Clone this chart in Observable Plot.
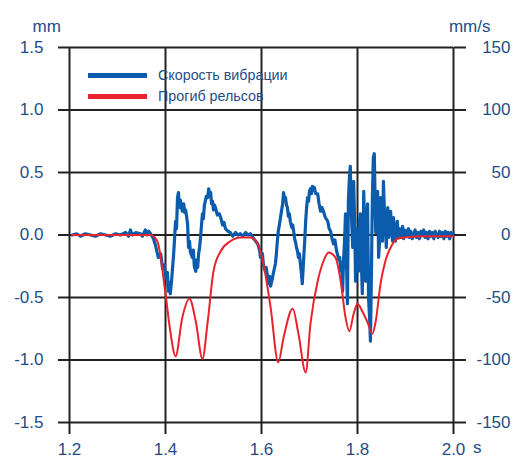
<!DOCTYPE html>
<html>
<head>
<meta charset="utf-8">
<script src="https://cdn.jsdelivr.net/npm/d3@7"></script>
<script src="https://cdn.jsdelivr.net/npm/@observablehq/plot@0.6"></script>
<style>
  html, body { margin: 0; padding: 0; background: #fff; }
  #wrap { position: relative; width: 518px; height: 461px; font-family: "Liberation Sans", Arial, Helvetica, sans-serif; }
  .leg { position: absolute; left: 88px; display: flex; align-items: center; font-size: 14.3px; color: #1d4e89; }
  .leg span.sw { display: inline-block; width: 59px; height: 5px; margin-right: 11px; }
</style>
</head>
<body>
<div id="wrap">
  <div id="chart"></div>
  <div class="leg" style="top:67px"><span class="sw" style="background:#0b5cad"></span>Скорость вибрации</div>
  <div class="leg" style="top:88px"><span class="sw" style="background:#e8232b"></span>Прогиб рельсов</div>
</div>
<script>
// x ticks (s) and y ticks (mm; right axis shows mm/s = mm * 100)
const xTicks = [1.2, 1.4, 1.6, 1.8, 2.0];
const yTicks = [-1.5, -1.0, -0.5, 0.0, 0.5, 1.0, 1.5];

// Прогиб рельсов (rail deflection), mm
const redT = [1.206, 1.25, 1.30, 1.35, 1.369, 1.383, 1.400, 1.410, 1.421, 1.435, 1.450, 1.463, 1.477, 1.488, 1.500, 1.515, 1.535, 1.556, 1.577, 1.592, 1.604, 1.619, 1.635, 1.646, 1.665, 1.677, 1.692, 1.702, 1.717, 1.729, 1.740, 1.754, 1.765, 1.775, 1.783, 1.792, 1.800, 1.810, 1.821, 1.831, 1.838, 1.848, 1.858, 1.869, 1.883, 1.896, 1.95, 2.0];
const redMM = [0, 0, 0, 0, 0, -0.05, -0.47, -0.77, -0.97, -0.66, -0.51, -0.69, -0.99, -0.69, -0.29, -0.13, -0.05, -0.02, -0.02, -0.07, -0.23, -0.58, -1.02, -0.82, -0.59, -0.79, -1.10, -0.71, -0.37, -0.21, -0.14, -0.18, -0.37, -0.66, -0.77, -0.63, -0.55, -0.61, -0.70, -0.79, -0.69, -0.39, -0.21, -0.10, -0.03, -0.02, -0.01, -0.01];

// Скорость вибрации (vibration velocity), mm/s
const blueT = [1.206,1.215,1.223,1.233,1.244,1.254,1.265,1.275,1.285,1.296,1.306,1.317,1.323,1.327,1.331,1.338,1.348,1.352,1.358,1.362,1.365,1.369,1.375,1.379,1.385,1.390,1.394,1.398,1.400,1.404,1.406,1.408,1.410,1.413,1.417,1.421,1.423,1.425,1.427,1.429,1.431,1.435,1.438,1.440,1.442,1.446,1.448,1.450,1.452,1.456,1.458,1.460,1.463,1.465,1.467,1.469,1.471,1.473,1.475,1.477,1.479,1.481,1.483,1.485,1.488,1.490,1.492,1.494,1.496,1.498,1.500,1.502,1.504,1.508,1.512,1.515,1.519,1.522,1.525,1.530,1.535,1.540,1.546,1.551,1.556,1.561,1.567,1.572,1.577,1.582,1.588,1.592,1.596,1.598,1.602,1.604,1.608,1.610,1.613,1.615,1.617,1.619,1.622,1.625,1.629,1.631,1.633,1.635,1.638,1.640,1.642,1.644,1.646,1.648,1.650,1.652,1.654,1.656,1.658,1.660,1.663,1.665,1.667,1.669,1.671,1.673,1.675,1.677,1.679,1.681,1.683,1.685,1.688,1.690,1.692,1.694,1.696,1.698,1.700,1.702,1.704,1.706,1.708,1.710,1.713,1.717,1.720,1.723,1.726,1.729,1.733,1.738,1.741,1.744,1.747,1.750,1.753,1.756,1.758,1.761,1.763,1.765,1.767,1.769,1.771,1.773,1.775,1.777,1.779,1.781,1.783,1.785,1.787,1.790,1.792,1.794,1.796,1.798,1.800,1.802,1.804,1.806,1.808,1.810,1.812,1.813,1.815,1.817,1.819,1.821,1.823,1.825,1.827,1.829,1.831,1.833,1.835,1.837,1.838,1.840,1.842,1.844,1.846,1.848,1.850,1.852,1.854,1.856,1.858,1.860,1.863,1.865,1.867,1.869,1.871,1.873,1.875,1.877,1.879,1.881,1.883,1.885,1.888,1.890,1.892,1.894,1.896,1.898,1.900,1.903,1.906,1.908,1.911,1.914,1.917,1.920,1.923,1.926,1.929,1.932,1.935,1.938,1.941,1.944,1.947,1.950,1.953,1.956,1.959,1.962,1.965,1.968,1.971,1.974,1.977,1.980,1.983,1.986,1.989,1.992,1.995,1.998,2.000];
const blueV = [0,1,-1,1,0,-1,1,0,-1,1,0,2,-1,4,0,2,1,-1,4,0,3,1,-3,-8,-18,-15,-27,-24,-34,-30,-45,-38,-47,-35,-15,11,5,30,34,22,28,19,25,18,20,9,-10,-5,-14,-18,-12,-25,-29,-20,-26,-15,-10,-2,8,17,13,24,27,31,30,37,32,34,25,27,20,24,22,16,17,14,8,10,5,3,2,-1,2,0,1,-1,2,0,1,-2,-5,-7,-12,-18,-15,-24,-29,-26,-35,-39,-33,-41,-36,-30,-23,-15,-5,3,10,15,20,25,34,28,30,24,22,15,17,11,6,8,3,-3,-6,-10,-13,-18,-15,-23,-30,-39,-18,-5,11,22,30,27,35,37,33,39,36,38,33,33,25,19,22,19,14,11,5,3,-3,-7,-4,-12,-15,-20,-18,-29,-22,-45,-20,-5,17,-20,-55,27,45,55,20,-10,43,10,-37,5,-2,-29,10,17,-20,-47,5,35,0,-37,10,25,-50,-65,-85,-30,30,62,65,20,2,25,35,-18,-5,30,10,-5,43,20,9,-10,22,-2,8,19,5,-5,14,2,-5,6,11,-2,5,-2,3,7,-3,4,-1,3,5,-2,3,-3,1,4,-2,2,-3,3,0,4,-2,2,-3,3,-1,2,-3,3,0,-2,3,-1,2,-3,3,-1,2,-3,2,0,1];

const red = redT.map((t, i) => ({t, mm: redMM[i]}));
const blue = blueT.map((t, i) => ({t, v: blueV[i]}));

const ink = "#1d4e89";
const gridInk = "#222";

const chart = Plot.plot({
  width: 518,
  height: 461,
  marginLeft: 69,
  marginRight: 65,
  marginTop: 47,
  marginBottom: 39,
  style: {fontFamily: "'Liberation Sans', Arial, Helvetica, sans-serif", fontSize: "17px", color: ink, background: "#fff"},
  x: {domain: [1.2, 2.0]},
  y: {domain: [-1.5, 1.5]},
  marks: [
    Plot.gridX(xTicks, {stroke: gridInk, strokeOpacity: 1, strokeWidth: 2}),
    Plot.gridY(yTicks, {stroke: gridInk, strokeOpacity: 1, strokeWidth: 2}),
    Plot.line(blue, {x: "t", y: d => d.v / 100, stroke: "#0b5cad", strokeWidth: 3.2}),
    Plot.line(red, {x: "t", y: "mm", stroke: "#e8232b", strokeWidth: 2, curve: "monotone-x"}),
    Plot.axisX(xTicks, {tickSize: 12, tickPadding: 8, tickFormat: d => d.toFixed(1), stroke: gridInk, strokeWidth: 2, fill: ink, label: null}),
    Plot.axisY(yTicks, {anchor: "left", tickSize: 11, tickPadding: 15, tickFormat: d => d.toFixed(1), stroke: gridInk, strokeWidth: 2, fill: ink, label: null}),
    Plot.axisY(yTicks, {anchor: "right", tickSize: 12, tickPadding: 45, textAnchor: "end", tickFormat: d => String(Math.round(d * 100)), stroke: gridInk, strokeWidth: 2, fill: ink, label: null}),
    Plot.text(["mm"], {frameAnchor: "top-left", dx: -37, dy: -28, fill: ink, fontSize: 17}),
    Plot.text(["mm/s"], {frameAnchor: "top-right", dx: 37, dy: -28, fill: ink, fontSize: 17}),
    Plot.text(["s"], {frameAnchor: "bottom-right", dx: 28, dy: 30, fill: ink, fontSize: 17})
  ]
});
document.getElementById("chart").appendChild(chart);
</script>
</body>
</html>
